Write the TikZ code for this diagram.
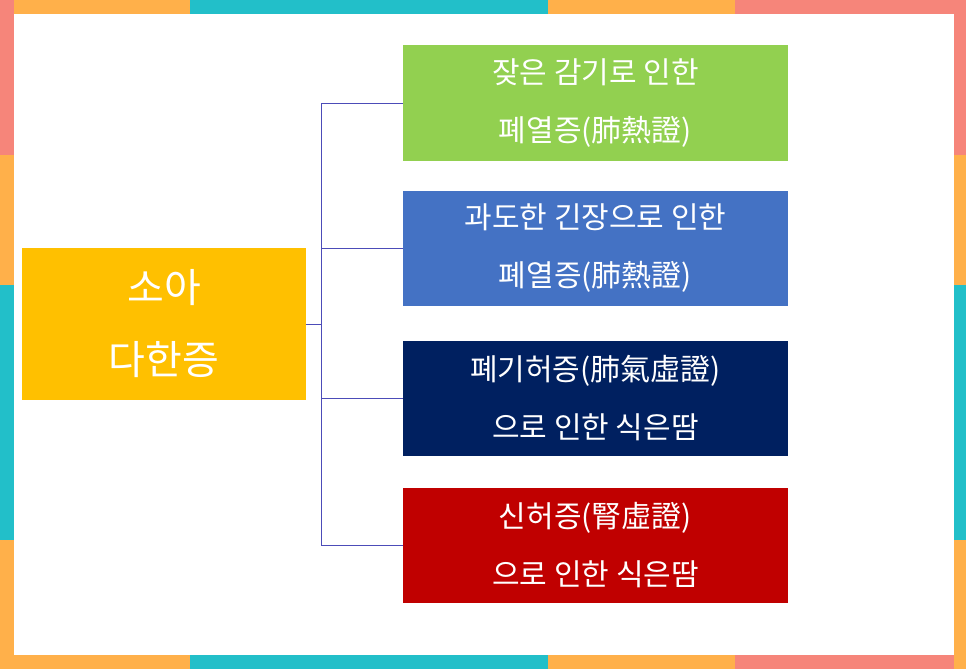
\documentclass[tikz,border=0pt]{standalone}
\usepackage{fontspec}
\setmainfont{Noto Sans CJK KR}
\begin{document}
\begin{tikzpicture}[x=1pt,y=-1pt,
  cbox/.style={minimum width=385pt,minimum height=115pt,text=white,align=center,inner sep=0pt,font=\fontsize{30}{58}\selectfont},
  conn/.style={draw=black!40!blue!70!white,line width=1pt}]
\definecolor{bOr}{HTML}{FFB04A}\definecolor{bTe}{HTML}{22BFC9}\definecolor{bSa}{HTML}{F6857A}
\useasboundingbox (0,0) rectangle (966,669);
% border
\fill[bOr] (0,0) rectangle (190,14); \fill[bTe] (190,0) rectangle (548,14); \fill[bOr] (548,0) rectangle (735,14); \fill[bSa] (735,0) rectangle (966,14);
\fill[bOr] (0,655) rectangle (190,669); \fill[bTe] (190,655) rectangle (548,669); \fill[bOr] (548,655) rectangle (735,669); \fill[bSa] (735,655) rectangle (966,669);
\fill[bSa] (0,0) rectangle (14,155); \fill[bOr] (0,155) rectangle (14,285); \fill[bTe] (0,285) rectangle (14,540); \fill[bOr] (0,540) rectangle (14,669);
\fill[bSa] (954,0) rectangle (966,155); \fill[bOr] (954,155) rectangle (966,285); \fill[bTe] (954,285) rectangle (966,540); \fill[bOr] (954,540) rectangle (966,669);
\fill[bSa] (0,0) rectangle (14,14); \fill[bSa] (954,0) rectangle (966,14);
\fill[bOr] (0,655) rectangle (14,669); \fill[bOr] (954,655) rectangle (966,669);
\fill[white] (14,14) rectangle (954,655);
% nodes
\node[fill={rgb,255:red,255;green,192;blue,0},minimum width=284pt,minimum height=152pt,text=white,align=center,inner sep=0pt,font=\fontsize{40}{72}\selectfont] (m) at (164,324) {소아\\다한증};
\node[cbox,fill={rgb,255:red,146;green,208;blue,80}] (a) at (595.5,103) {잦은 감기로 인한\\폐열증(肺熱證)};
\node[cbox,fill={rgb,255:red,68;green,114;blue,196}] (b) at (595.5,248.5) {과도한 긴장으로 인한\\폐열증(肺熱證)};
\node[cbox,fill={rgb,255:red,0;green,32;blue,96}] (c) at (595.5,398) {폐기허증(肺氣虛證)\\으로 인한 식은땀};
\node[cbox,fill={rgb,255:red,192;green,0;blue,0}] (d) at (595.5,545.5) {신허증(腎虛證)\\으로 인한 식은땀};
\coordinate (j) at (321,324);
\draw[conn] (m.east) -- (j);
\foreach \t in {a,b,c,d} \draw[conn] (j) |- (\t.west);
\end{tikzpicture}
\end{document}
